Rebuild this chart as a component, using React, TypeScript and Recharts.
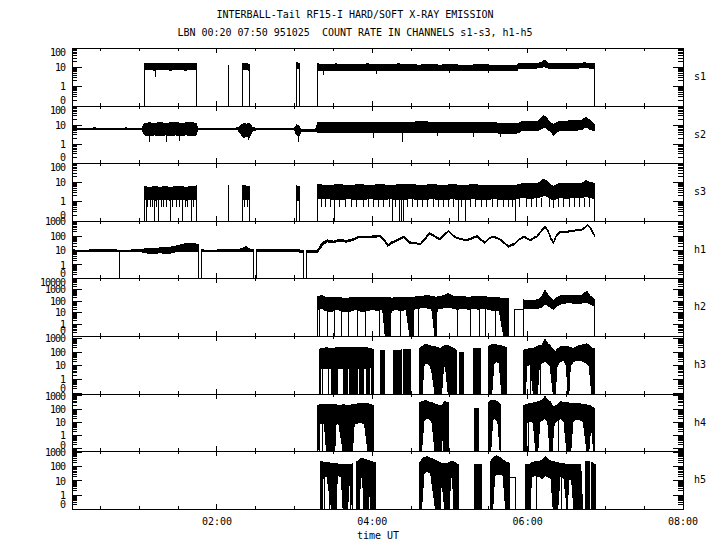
import React from "react";
import { ComposedChart, Area, Line, XAxis, YAxis, ReferenceArea } from "recharts";

// time axis (minutes UT)
const T0 = 8;
const T1 = 480;
const timeTicks = [30, 60, 90, 120, 150, 180, 210, 240, 270, 300, 330, 360, 390, 420, 450, 480];
const timeLabels: Record<number, string> = { 120: "02:00", 240: "04:00", 360: "06:00", 480: "08:00" };

// band rows: [minute, low, high]  (0 = no counts)
const s1Band = [
  [8, 0, 0], [64, 0, 0], [64, 8, 16], [68, 8, 15], [72, 7, 16], [76, 8, 15], [80, 8, 16], [84, 7, 15], [88, 8, 16],
  [92, 8, 15], [96, 7, 16], [100, 8, 15], [104, 8, 16], [104, 0, 0],
  [140, 0, 0], [140, 8, 15], [142.5, 8, 16], [145, 7, 14], [145, 0, 0],
  [181.5, 0, 0], [181.5, 9, 18], [183.5, 8, 16], [183.5, 0, 0],
  [198, 0, 0], [198, 7, 15], [205, 7, 14], [212, 7, 15], [220, 7, 14], [228, 7, 14], [236, 7, 15], [244, 7, 14],
  [252, 7, 14], [260, 7, 15], [268, 7, 14], [276, 7, 13], [284, 7, 14], [292, 7, 13], [300, 7, 14], [308, 7, 13],
  [316, 7, 13], [324, 7, 14], [332, 7, 13], [340, 7, 13], [348, 7, 12], [352, 7, 13], [353, 9, 16], [360, 9, 16],
  [366, 9, 15], [371, 10, 18], [373, 11, 23], [376, 9, 16], [382, 9, 16], [390, 9, 16], [398, 9, 16], [404, 10, 17],
  [408, 9, 16], [412, 9, 15], [412, 0, 0],
];
const s1Spikes = [[129, 0, 14], [72.5, 8, 3.3], [202, 7, 4], [243, 7, 4.5], [300, 7, 5], [330, 7, 5]];

const s2Band = [
  [8, 5.5, 6.8], [14, 5.5, 6.5], [20, 5.7, 6.8], [26, 5.5, 7], [32, 5.5, 6.6], [38, 5.7, 6.8], [44, 5.5, 6.6],
  [50, 5.7, 7], [56, 5.5, 6.6], [62, 5.5, 6.8],
  [64, 3, 12], [68, 2.8, 13], [72, 3, 12], [76, 2.8, 14], [80, 3, 12], [84, 2.8, 13], [88, 3, 14], [92, 2.8, 12], [96, 3, 13],
  [100, 2.8, 14], [104, 3, 12],
  [105, 5.5, 6.8], [112, 5.5, 6.6], [120, 5.7, 6.8], [128, 5.5, 6.6], [136, 5.5, 7],
  [139, 3, 10], [141, 2.2, 12], [143, 2.5, 11], [145, 2.2, 12], [147, 4.5, 8],
  [150, 5.5, 6.8], [158, 5.5, 6.6], [166, 5.5, 6.8], [174, 5.7, 6.8], [180, 5.5, 6.8],
  [181.5, 3, 10], [183, 2.5, 9], [185, 4.7, 6], [190, 4.7, 5.8], [196, 4.7, 5.8],
  [198, 4, 14], [206, 4, 13], [214, 4, 14], [222, 4, 13], [230, 4, 14], [238, 4, 13], [246, 4, 14], [254, 4, 14],
  [262, 4, 13], [270, 4, 14], [278, 4, 15], [286, 4, 14], [294, 4, 14], [302, 4, 13], [310, 4, 14], [318, 4, 13],
  [326, 4, 14], [334, 4, 13], [342, 3.5, 12], [350, 3.5, 12], [353, 4, 12], [355, 5, 15], [362, 5, 15], [368, 5, 16],
  [372, 7, 30], [374, 7, 28], [377, 5, 14], [380, 3, 11], [384, 5, 15], [390, 5, 16], [396, 5, 17], [402, 6, 18],
  [405, 8, 26], [408, 6, 18], [411, 5, 12], [412, 5, 10],
];
const s2Spikes = [
  [68, 3, 1.3], [80.8, 3, 1.3], [91, 3, 1.4], [144, 2.5, 1.6], [182.6, 3, 1.3], [241, 4, 2], [263.5, 4, 1.3],
  [290, 4, 2.5], [318, 4, 2.2], [339, 3.5, 2.4],
];

const s3Band = [
  [8, 0, 0], [64, 0, 0], [64, 1.3, 6], [68, 1.3, 5.5], [72, 1.2, 6], [76, 1.3, 5.5], [80, 1.3, 6], [84, 1.2, 5.5],
  [88, 1.3, 6], [92, 1.3, 6], [96, 1.2, 5.5], [100, 1.3, 6], [104, 1.3, 6.5], [104, 0, 0],
  [139.5, 0, 0], [139.5, 1.3, 6.5], [142.5, 1.3, 6.5], [145.3, 1.2, 6], [145.3, 0, 0],
  [181.5, 0, 0], [181.5, 1.2, 6.5], [183.5, 1.2, 6], [183.5, 0, 0],
  [198, 0, 0], [198, 1.4, 7.5], [206, 1.4, 7], [214, 1.3, 7.5], [222, 1.4, 7], [230, 1.3, 7.5], [238, 1.4, 7],
  [246, 1.3, 7.5], [254, 1.4, 7], [262, 1.3, 7.5], [270, 1.4, 7.5], [278, 1.3, 7], [286, 1.4, 7.5], [294, 1.3, 7],
  [302, 1.4, 7.5], [310, 1.3, 7], [318, 1.4, 7.5], [326, 1.3, 7], [334, 1.4, 7], [342, 1.3, 7], [350, 1.3, 7],
  [353, 1.5, 7.5], [356, 1.6, 8.5], [362, 1.5, 8.5], [368, 1.6, 9], [372, 2, 14], [374, 2, 13], [377, 1.5, 8],
  [380, 1.2, 6], [384, 1.6, 8.5], [390, 1.5, 8.5], [396, 1.6, 9], [402, 1.6, 9], [405, 2, 12], [408, 1.6, 10],
  [411, 1.5, 9], [412, 1.5, 8], [412, 0, 0],
];
const s3Spikes = [
  [65.4, 1.3, 0], [71.8, 1.3, 0], [75.1, 1.3, 0], [83.9, 1.3, 0], [93.7, 1.3, 0], [100.2, 1.3, 0], [129, 0, 7],
  [211, 1.4, 0], [255.3, 1.4, 0], [260.7, 1.4, 0], [262.6, 1.4, 0], [264.4, 1.4, 0], [306.4, 1.4, 0], [312.3, 1.4, 0],
  [350.8, 1.3, 0],
  [66.5, 1.3, 0.5], [68.5, 1.3, 0.5], [70, 1.3, 0.5], [73, 1.3, 0.5], [77, 1.3, 0.5], [79, 1.3, 0.5], [81, 1.3, 0.5],
  [86, 1.3, 0.5], [88.5, 1.3, 0.5], [91, 1.3, 0.5], [95.5, 1.3, 0.5], [97.5, 1.3, 0.5], [102, 1.3, 0.5],
  [141, 1.3, 0.5], [143.5, 1.3, 0.5], [200.5, 1.4, 0.5], [204, 1.4, 0.5], [207.5, 1.4, 0.5], [215, 1.4, 0.5],
  [219, 1.4, 0.5], [224, 1.4, 0.5], [228, 1.4, 0.5], [233, 1.4, 0.5], [237, 1.4, 0.5], [241, 1.4, 0.5],
  [245, 1.4, 0.5], [249, 1.4, 0.5], [253, 1.4, 0.5], [258, 1.4, 0.5], [267, 1.4, 0.5], [271, 1.4, 0.5],
  [275, 1.4, 0.5], [279, 1.4, 0.5], [283, 1.4, 0.5], [287, 1.4, 0.5], [291, 1.4, 0.5], [295, 1.4, 0.5],
  [299, 1.4, 0.5], [303, 1.4, 0.5], [309, 1.4, 0.5], [316, 1.4, 0.5], [320, 1.4, 0.5], [324, 1.4, 0.5],
  [328, 1.4, 0.5], [333, 1.4, 0.5], [337, 1.4, 0.5], [341, 1.4, 0.5], [345, 1.4, 0.5], [348, 1.4, 0.5],
  [354, 1.5, 0.5], [359, 1.5, 0.5], [363, 1.5, 0.5], [367, 1.5, 0.5], [371, 1.5, 0.5], [377, 1.5, 0.5],
  [379.8, 1.2, 0.45], [384, 1.5, 0.5], [388, 1.5, 0.5], [392, 1.5, 0.5], [396, 1.5, 0.5], [400, 1.5, 0.5],
  [404, 1.5, 0.5], [408, 1.5, 0.5],
];

const h1Band = [
  [8, 8, 11], [16, 8, 10.5], [24, 8, 11], [32, 8.5, 11], [40, 8, 11], [48, 8, 10.5], [56, 8, 11], [62, 8, 11],
  [64, 7, 13], [70, 6, 14], [76, 7, 15], [82, 6, 16], [88, 8, 20], [92, 8, 25], [96, 9, 30], [100, 9, 32], [104, 9, 28],
  [105.5, 9, 25], [105.5, 0, 0], [108, 0, 0], [108, 8, 11],
  [115, 8, 10.5], [122, 8, 11], [130, 8.5, 11.5], [136, 8, 12], [140, 8, 14], [142.5, 9, 19], [145, 8, 13], [148.5, 8, 11],
  [148.5, 0, 0], [150.5, 0, 0], [150.5, 8, 11],
  [158, 8, 11], [166, 8.5, 11], [174, 8, 11], [182, 8, 11.5], [186.5, 7.5, 10], [186.5, 0, 0], [189, 0, 0], [189, 7.5, 9.5],
  [194, 7.5, 9.5], [197.5, 7.5, 9.5],
  [200, 15, 25], [202, 25, 40], [205, 40, 55], [210, 35, 45], [215, 45, 60], [220, 38, 50], [225, 50, 65], [230, 80, 100],
  [238, 80, 100], [246, 90, 110], [249, 50, 65], [252, 20, 25], [255, 30, 40], [259, 45, 55], [264, 80, 100],
  [269, 32, 40], [273, 30, 36], [277, 25, 30], [281, 60, 80], [284, 140, 170], [288, 90, 110], [292, 55, 65],
  [296, 120, 150], [299, 210, 250], [302, 110, 130], [305, 70, 80], [309, 55, 65], [313, 48, 56], [317, 65, 80],
  [321, 90, 110], [324, 50, 60], [327, 32, 40], [330, 60, 75], [333, 85, 100], [336, 70, 85], [339, 50, 60],
  [342, 30, 38], [345, 17, 21], [348, 22, 28], [350, 26, 32], [353, 50, 60], [357, 85, 100], [360, 60, 72],
  [362, 48, 56], [365, 70, 85], [367, 85, 100], [370, 180, 220], [373.5, 400, 480], [376, 180, 220], [378, 60, 75],
  [380, 32, 40], [382, 90, 110], [385, 180, 220], [388, 170, 210], [390, 180, 220], [393, 200, 240], [395, 220, 260],
  [398, 230, 270], [402, 260, 310], [404, 350, 420], [406, 530, 620], [408, 400, 480], [410, 180, 220], [412, 90, 110],
];
const h1Spikes = [[44.7, 8, 0]];

const h2Band = [
  [198, 0, 0], [198, 20, 250], [201, 25, 300], [204, 15, 220], [208, 12, 200], [212, 20, 220], [216, 15, 190],
  [220, 12, 180], [224, 15, 200], [228, 20, 220], [232, 12, 190], [236, 15, 200], [240, 20, 210], [244, 15, 190],
  [248, 20, 220], [250, 0, 200], [254, 0, 190], [254.5, 15, 180], [258, 20, 200], [262, 15, 190], [266, 20, 220],
  [269, 0, 200], [271.5, 0, 210], [272, 20, 220], [276, 25, 250], [280, 30, 280], [283, 25, 300], [286, 20, 260],
  [288.4, 0, 230], [289.7, 0, 220], [290, 20, 230], [294, 25, 280], [298.5, 30, 440], [302, 25, 280], [306, 20, 230],
  [310, 25, 250], [314, 20, 220], [318, 25, 240], [322, 20, 230], [326, 25, 250], [330, 20, 220], [334, 15, 200],
  [338, 15, 190], [341.5, 0, 180], [345.5, 0, 170], [345.5, 0, 0],
  [349.5, 0, 0], [349.5, 21, 21], [356.5, 21, 21], [356.5, 20, 130], [360, 25, 110], [364, 25, 120], [368, 25, 130],
  [371, 30, 250], [373.4, 60, 900], [376, 40, 300], [379.8, 20, 110], [383, 40, 220], [386, 60, 300], [390, 70, 280],
  [394, 70, 300], [398, 65, 320], [402, 70, 330], [405.7, 80, 750], [408, 60, 300], [411, 40, 160], [412, 30, 135],
  [412, 0, 0],
];
const h2Spikes = [
  [199.4, 20, 0], [205.4, 15, 0], [210.5, 15, 0], [216.2, 15, 0], [221.9, 12, 0], [228.8, 20, 0], [235, 15, 0],
  [245.3, 15, 0], [262.1, 15, 0], [275.4, 25, 0], [305.6, 20, 0], [315.5, 20, 0], [322.6, 20, 0], [327.8, 25, 0],
  [334.8, 15, 0], [356.6, 20, 0],
];

const h3Band = [
  [199, 0, 0], [199, 0, 150], [200, 6, 180], [204, 6, 200], [208.5, 6, 190], [208.5, 0, 190], [212.8, 0, 200],
  [212.8, 6, 210], [217.4, 6, 200], [217.4, 0, 200], [220.5, 0, 210], [220.5, 6, 200], [222.6, 6, 200], [222.6, 0, 210],
  [228.3, 0, 220], [228.3, 6, 230], [230.4, 6, 230], [230.4, 0, 230], [233, 0, 220], [233, 6, 220], [235.5, 6, 210],
  [235.5, 0, 200], [238, 0, 190], [238, 8, 190], [239.4, 8, 180], [239.4, 0, 180], [240.6, 0, 150], [240.6, 0, 0],
  [246.4, 0, 0], [246.4, 0, 135], [249.7, 0, 135], [249.7, 0, 0],
  [256.1, 0, 0], [256.1, 0, 135], [262.6, 0, 140], [262.6, 0, 0],
  [263.8, 0, 0], [263.8, 0, 150], [269.6, 0, 150], [269.6, 0, 0],
  [276.2, 0, 0], [276.2, 0, 180], [278.4, 0, 250], [280, 12, 330], [282, 15, 370], [284, 12, 300], [285.8, 5, 260],
  [288.4, 0, 250], [292.3, 0, 180], [293.5, 0, 200], [295, 8, 260], [296.5, 10, 310], [298.6, 0, 300], [302, 0, 200],
  [305.1, 0, 135], [305.1, 0, 0],
  [307.7, 0, 0], [307.7, 0, 92], [310.8, 0, 92], [310.8, 0, 0],
  [318.5, 0, 0], [318.5, 0, 180], [323.7, 0, 180], [323.7, 0, 0],
  [329.6, 0, 0], [329.6, 0, 250], [332.2, 0, 330], [334, 15, 350], [336, 20, 330], [338, 15, 300], [340, 0, 280],
  [343.8, 0, 200], [343.8, 0, 0],
  [356.6, 0, 0], [356.6, 0, 135], [358.2, 0, 150], [359.5, 10, 160], [362, 12, 180], [364.4, 0, 180], [367.5, 0, 250],
  [369, 10, 300], [371, 15, 310], [373.4, 20, 850], [375.5, 15, 400], [377.3, 10, 300], [379.8, 0, 150], [381.4, 0, 92],
  [382.5, 8, 150], [385, 20, 230], [388, 25, 260], [390, 10, 250], [391, 0, 250], [391.8, 0, 230], [393, 10, 220],
  [395.3, 20, 180], [398, 25, 250], [400.5, 25, 310], [403, 20, 330], [405.7, 15, 410], [407.5, 10, 300],
  [409.5, 0, 200], [412, 0, 180], [412, 0, 0],
];
const h3Spikes = [[200.2, 6, 0], [201.5, 6, 0], [205.8, 6, 0], [361.9, 12, 0], [369.6, 12, 0]];

const h4Band = [
  [198, 0, 0], [198, 0, 200], [199.5, 8, 210], [201.5, 8, 210], [203, 8, 220], [204.6, 0, 210], [211, 0, 220],
  [212, 8, 210], [214, 9, 200], [217.4, 0, 210], [221.3, 0, 200], [222, 8, 200], [222.6, 0, 200], [224.7, 0, 220],
  [226, 8, 240], [229, 9, 250], [232, 9, 270], [234, 8, 280], [236.5, 0, 260], [240.6, 0, 200], [240.6, 0, 0],
  [276.2, 0, 0], [276.2, 0, 300], [278, 0, 370], [280, 15, 420], [282, 20, 440], [284, 18, 350], [286, 12, 310],
  [288.4, 0, 250], [293.5, 0, 170], [294.5, 10, 250], [295.3, 0, 330], [296.1, 0, 370], [298.6, 0, 300], [298.6, 0, 0],
  [318.7, 0, 0], [318.7, 0, 117], [322.4, 0, 117], [322.4, 0, 0],
  [330.1, 0, 0], [330.1, 0, 350], [331.5, 0, 440], [333, 15, 450], [335, 20, 420], [337, 10, 350], [338.7, 0, 250],
  [338.7, 0, 0],
  [356.6, 0, 0], [356.6, 0, 200], [358.2, 0, 210], [359.5, 10, 240], [362, 12, 270], [364.4, 10, 300], [366.2, 0, 330],
  [367.8, 0, 370], [369.5, 12, 400], [371.5, 15, 500], [373.4, 20, 900], [375.5, 12, 500], [377.3, 0, 370],
  [378.8, 0, 200], [380.5, 8, 160], [383, 15, 220], [385.5, 20, 370], [388, 12, 330], [390.2, 0, 300], [393.3, 0, 290],
  [395, 12, 290], [398, 18, 280], [401, 15, 250], [403, 10, 210], [405.7, 0, 210], [407.3, 0, 200], [409, 10, 170],
  [411, 0, 117], [412, 0, 117], [412, 0, 0],
];
const h4Spikes = [[199.4, 8, 0], [201.5, 8, 0], [359, 10, 0], [361, 12, 0], [384, 20, 0]];

const h5Band = [
  [199.6, 0, 0], [199.6, 0, 230], [201.2, 0, 230], [202, 25, 220], [205, 20, 200], [208.5, 0, 180], [212, 0, 170],
  [213, 25, 160], [216, 20, 150], [217.4, 0, 140], [221, 0, 140], [222, 20, 150], [224.6, 0, 160], [224.6, 0, 0],
  [228.1, 0, 0], [228.1, 0, 230], [229.7, 0, 300], [231, 20, 400], [232.5, 15, 400], [233.5, 0, 350], [237.1, 0, 280],
  [238, 15, 260], [238.9, 0, 240], [242.4, 0, 200], [242.4, 0, 0],
  [276.3, 0, 0], [276.3, 0, 180], [278, 0, 300], [280, 35, 450], [282, 50, 520], [285, 35, 400], [288.8, 0, 300],
  [292.3, 0, 200], [293.5, 20, 170], [295.9, 0, 160], [299.4, 0, 200], [300.5, 20, 230], [302, 15, 230], [303, 0, 220],
  [306.5, 0, 135], [306.5, 0, 0],
  [319, 0, 0], [319, 0, 135], [324.4, 0, 135], [324.4, 0, 0],
  [331.5, 0, 0], [331.5, 0, 230], [333, 0, 400], [334.5, 20, 560], [336, 30, 590], [338.5, 30, 450], [341, 25, 300],
  [343, 0, 230], [345.7, 0, 180], [345.7, 0, 0], [345.7, 18, 18], [350.3, 18, 18], [350.3, 0, 0],
  [358.2, 0, 0], [358.2, 0, 135], [361.8, 0, 160], [363, 20, 200], [366, 25, 230], [369, 20, 250], [371, 15, 300],
  [373.4, 25, 520], [375.5, 20, 350], [378, 15, 250], [379.7, 0, 230], [383.2, 0, 200], [385, 20, 180], [388, 15, 160],
  [390.5, 0, 150], [392, 15, 140], [394, 10, 135], [395.7, 0, 140], [401, 0, 150], [402.5, 0, 0], [404.3, 0, 0],
  [404.3, 0, 230], [407.8, 0, 230], [407.8, 0, 0], [409.5, 0, 0], [409.5, 0, 200], [412.5, 0, 140], [412.5, 0, 0],
];
const h5Spikes = [
  [203.2, 25, 0], [206.8, 20, 0], [223.5, 20, 0], [360.5, 20, 0], [366.5, 25, 0], [381, 15, 0], [386, 20, 0], [398, 10, 0],
];

// layout
const PL = 72;
const PR = 683;
const MT = 8;
const edges = [48, 106, 163, 221, 278, 336, 394, 451, 509];
const FONT = "'DejaVu Sans Mono', 'Liberation Mono', monospace";

const panels = [
  { name: "s1", band: s1Band, spikes: s1Spikes, yMin: -1, yMax: 2, zero: -0.7 },
  { name: "s2", band: s2Band, spikes: s2Spikes, yMin: -1, yMax: 2, zero: -0.7 },
  { name: "s3", band: s3Band, spikes: s3Spikes, yMin: -1, yMax: 2, zero: -0.7 },
  { name: "h1", band: h1Band, spikes: h1Spikes, yMin: -0.91, yMax: 3.05, zero: -0.56 },
  { name: "h2", band: h2Band, spikes: h2Spikes, yMin: -1, yMax: 4, zero: -0.55 },
  { name: "h3", band: h3Band, spikes: h3Spikes, yMin: -1.07, yMax: 3.17, zero: -0.63 },
  { name: "h4", band: h4Band, spikes: h4Spikes, yMin: -1.17, yMax: 3.15, zero: -0.71 },
  { name: "h5", band: h5Band, spikes: h5Spikes, yMin: -0.99, yMax: 3.12, zero: -0.66 },
];

function buildRows(p: any) {
  const f = (v: number) => (v <= 0 ? p.yMin : Math.log10(v));
  const rows: any[] = p.band.map(([t, lo, hi]: number[]) => ({ t, band: [f(lo), f(hi)] }));
  p.spikes.forEach(([t, a, b]: number[]) => {
    rows.push({ t, sp: f(a) }, { t, sp: f(b) }, { t, sp: null });
  });
  return rows;
}

function yTicks(p: any) {
  const out: number[] = [];
  for (let d = Math.floor(p.yMin); d <= Math.ceil(p.yMax); d++) {
    for (let k = 1; k <= 9; k++) {
      const v = d + Math.log10(k);
      if (v >= p.yMin - 1e-9 && v <= p.yMax + 1e-9) out.push(v);
    }
  }
  out.push(p.zero);
  return out;
}

const makeYTick = (p: any) => (props: any) => {
  const v = props.payload.value as number;
  const y = props.y;
  const isZero = v === p.zero;
  const isMajor = !isZero && Math.abs(v - Math.round(v)) < 1e-9;
  const exp = Math.round(v);
  const label = isZero ? "0" : isMajor && exp >= 0 ? String(Math.pow(10, exp)) : null;
  const len = isZero ? 0 : isMajor ? 10 : 5;
  const nudge = Math.abs(v - p.yMax) < 1e-6 ? 4 : 0;
  return (
    <g>
      {len > 0 && <line x1={PL} x2={PL + len} y1={y} y2={y} stroke="#000" />}
      {len > 0 && <line x1={PR} x2={PR - len} y1={y} y2={y} stroke="#000" />}
      {label && (
        <text x={PL - 7} y={y + nudge} dy="0.36em" textAnchor="end" fontSize={10} fontFamily={FONT} letterSpacing={-1} fill="#000">
          {label}
        </text>
      )}
    </g>
  );
};

const makeXTick = (top: number, bottom: number, showLabels: boolean) => (props: any) => {
  const v = props.payload.value as number;
  const x = props.x;
  const major = v % 120 === 0;
  const len = major ? 5 : 3;
  return (
    <g>
      <line x1={x} x2={x} y1={bottom} y2={bottom - len} stroke="#000" />
      <line x1={x} x2={x} y1={top} y2={top + len} stroke="#000" />
      {showLabels && major && (
        <text x={x} y={bottom + 12} dy="0.36em" textAnchor="middle" fontSize={10} fontFamily={FONT} fill="#000">
          {timeLabels[v]}
        </text>
      )}
    </g>
  );
};

function Panel({ p, i }: { p: any; i: number }) {
  const last = i === panels.length - 1;
  const y0 = edges[i];
  const y1 = edges[i + 1];
  const ph = y1 - y0;
  const mb = last ? 550 - y1 : 8;
  const rows = buildRows(p);
  return (
    <div style={{ position: "absolute", left: 0, top: y0 - MT }}>
      <ComposedChart
        width={720}
        height={ph + MT + mb}
        data={rows}
        margin={{ top: MT, right: 720 - PR, bottom: mb - 1, left: PL - 1 }}
      >
        <XAxis
          dataKey="t"
          type="number"
          domain={[T0, T1]}
          allowDataOverflow
          ticks={timeTicks}
          interval={0}
          height={1}
          axisLine={false}
          tickLine={false}
          tick={makeXTick(MT, MT + ph, last)}
        />
        <YAxis
          type="number"
          domain={[p.yMin, p.yMax]}
          allowDataOverflow
          ticks={yTicks(p)}
          interval={0}
          width={1}
          axisLine={false}
          tickLine={false}
          tick={makeYTick(p)}
        />
        <ReferenceArea x1={T0} x2={T1} y1={p.yMin} y2={p.yMax} fill="none" stroke="#000" strokeWidth={1} ifOverflow="visible" />
        <Area
          dataKey="band"
          type="linear"
          stroke="#000"
          strokeWidth={1}
          fill="#000"
          fillOpacity={1}
          connectNulls
          dot={false}
          activeDot={false}
          isAnimationActive={false}
        />
        <Line dataKey="sp" type="linear" stroke="#000" strokeWidth={1} dot={false} activeDot={false} isAnimationActive={false} />
      </ComposedChart>
      <div
        style={{
          position: "absolute",
          left: 694,
          top: MT + ph / 2 - 6,
          fontFamily: FONT,
          fontSize: 10,
          lineHeight: "12px",
        }}
      >
        {p.name}
      </div>
    </div>
  );
}

export default function App() {
  return (
    <div
      style={{
        position: "absolute",
        left: 0,
        top: 0,
        width: 720,
        height: 550,
        background: "#fff",
        color: "#000",
        overflow: "hidden",
        shapeRendering: "crispEdges",
        fontFamily: FONT,
      } as any}
    >
      <div style={{ position: "absolute", left: 0, top: 9, width: 710, textAlign: "center", fontSize: 10, lineHeight: "12px", whiteSpace: "pre" }}>
        INTERBALL-Tail RF15-I HARD/SOFT X-RAY EMISSION
      </div>
      <div style={{ position: "absolute", left: 0, top: 27, width: 710, textAlign: "center", fontSize: 10, lineHeight: "12px", whiteSpace: "pre" }}>
        {"LBN 00:20 07:50 951025  COUNT RATE IN CHANNELS s1-s3, h1-h5"}
      </div>
      {panels.map((p, i) => (
        <Panel key={p.name} p={p} i={i} />
      ))}
      <div style={{ position: "absolute", left: 357, top: 530, fontSize: 10, lineHeight: "12px" }}>time UT</div>
    </div>
  );
}
